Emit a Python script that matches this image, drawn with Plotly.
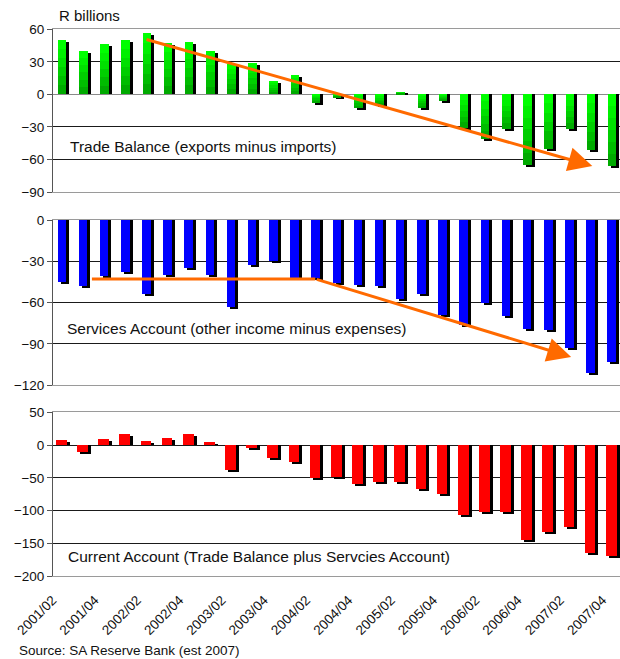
import plotly.graph_objects as go

# ---------------- data ----------------
quarters = ["2001/02", "2001/03", "2001/04", "2002/01", "2002/02", "2002/03", "2002/04",
            "2003/01", "2003/02", "2003/03", "2003/04", "2004/01", "2004/02", "2004/03",
            "2004/04", "2005/01", "2005/02", "2005/03", "2005/04", "2006/01", "2006/02",
            "2006/03", "2006/04", "2007/01", "2007/02", "2007/03", "2007/04"]
tick_labels = ["2001/02", "2001/04", "2002/02", "2002/04", "2003/02", "2003/04", "2004/02",
               "2004/04", "2005/02", "2005/04", "2006/02", "2006/04", "2007/02", "2007/04"]
trade_balance = [50, 40, 46, 50, 56, 47, 48, 40, 28, 29, 12, 18, -8, -3, -13, -10, 2, -13,
                 -6, -31, -41, -32, -65, -51, -32, -52, -66]
services_account = [-45, -48, -41, -38, -54, -40, -35, -40, -63, -33, -30, -42, -42, -46, -47,
                    -48, -57, -54, -69, -76, -60, -70, -79, -80, -93, -111, -103]
current_account = [7, -11, 9, 16, 6, 11, 16, 4, -38, -5, -20, -26, -51, -50, -60, -57, -57,
                   -68, -75, -108, -102, -102, -146, -133, -126, -166, -170]

# ---------------- layout constants ----------------
W, H = 620, 659
PLOT_L = 53
X_RANGE = [-0.5, 26.31]
PX_PER_CAT = (W - PLOT_L) / (X_RANGE[1] - X_RANGE[0])
FONT = "Liberation Sans, Arial, sans-serif"

panels = [
    dict(vals=trade_balance, yr=[-90, 60], dtick=30, top=29.3, bot=192.0,
         colors=["#00FF00", "#00F000", "#00E000", "#00CE00", "#00BC00", "#00AA00"],
         wpx=8.5, offpx=-5.6),
    dict(vals=services_account, yr=[-120, 0], dtick=30, top=220.0, bot=385.3,
         colors=["#0000FF"], wpx=8.5, offpx=-6.0),
    dict(vals=current_account, yr=[-200, 50], dtick=50, top=412.3, bot=576.0,
         colors=["#FF0000"], wpx=10.7, offpx=-7.6),
]

x = list(range(len(quarters)))
fig = go.Figure()

for i, p in enumerate(panels):
    sfx = "" if i == 0 else str(i + 1)
    xa, ya = "x" + sfx, "y" + sfx
    px_per_unit = (p["bot"] - p["top"]) / (p["yr"][1] - p["yr"][0])
    d = 2.0 / px_per_unit  # shadow drop
    w = p["wpx"] / PX_PER_CAT
    off = p["offpx"] / PX_PER_CAT
    sh = 3.0 / PX_PER_CAT
    vals = p["vals"]
    fig.add_trace(go.Bar(x=x, y=[v - d for v in vals], base=0, width=w, offset=off + sh,
                         marker=dict(color="#000000", line=dict(width=0)),
                         xaxis=xa, yaxis=ya, hoverinfo="skip"))
    n = len(p["colors"])
    for k, c in enumerate(p["colors"]):
        bottoms = [min(v, 0) for v in vals]
        heights = [abs(v) * (n - k) / n for v in vals]
        fig.add_trace(go.Bar(x=x, y=heights, base=bottoms, width=w, offset=off,
                             marker=dict(color=c, line=dict(width=0)),
                             xaxis=xa, yaxis=ya, hoverinfo="skip"))

    xdom = [PLOT_L / W, 1.0]
    ydom = [1 - p["bot"] / H, 1 - p["top"] / H]
    xaxis = dict(domain=xdom, range=X_RANGE, anchor=ya, showgrid=False, zeroline=False,
                 showline=True, mirror=True, linecolor="#9a9a9a", linewidth=1,
                 ticks="", showticklabels=False, fixedrange=True, automargin=False)
    if i == 2:
        xaxis.update(showticklabels=True, tickmode="array",
                     tickvals=[quarters.index(t) for t in tick_labels], ticktext=tick_labels,
                     tickangle=-45, tickfont=dict(family=FONT, size=13.5, color="#111"),
                     ticklabelshift=-11, ticklabelstandoff=10)
    yaxis = dict(domain=ydom, range=p["yr"], anchor=xa, dtick=p["dtick"], tick0=0,
                 showgrid=True, gridcolor="#1a1a1a", gridwidth=1,
                 zeroline=(i == 0), zerolinecolor="#8a8a8a", zerolinewidth=1,
                 showline=True, linecolor="#555", linewidth=1,
                 ticks="outside", ticklen=5, tickcolor="#555",
                 tickfont=dict(family=FONT, size=13.5, color="#111"), fixedrange=True,
                 automargin=False)
    fig.update_layout(**{"xaxis" + sfx: xaxis, "yaxis" + sfx: yaxis})

ORANGE = "#FF6A00"

def pxlabel(text, xpx, ypx, size=15.5):
    fig.add_annotation(text=text, x=xpx / W, y=1 - ypx / H, xref="paper", yref="paper",
                       xanchor="left", yanchor="middle", showarrow=False,
                       font=dict(family=FONT, size=size, color="#111"))

pxlabel("R billions", 57, 16, size=15)
pxlabel("Trade Balance (exports minus imports)", 68, 147)
pxlabel("Services Account (other income minus expenses)", 65, 328)
pxlabel("Current Account (Trade Balance plus Servcies Account)", 66, 556)
pxlabel("Source: SA Reserve Bank (est 2007)", 17, 650, size=13.5)

fig.add_annotation(x=25.0, y=-66.0, ax=3.85, ay=51.0, xref="x", yref="y", axref="x", ayref="y",
                   showarrow=True, arrowhead=2, arrowsize=1.6, arrowwidth=3, arrowcolor=ORANGE,
                   text="", standoff=0)
fig.add_shape(type="line", x0=1.34, y0=-42.8, x1=11.9, y1=-42.8, xref="x2", yref="y2",
              line=dict(color=ORANGE, width=3))
fig.add_annotation(x=24.0, y=-99.5, ax=11.9, ay=-42.8, xref="x2", yref="y2", axref="x2",
                   ayref="y2", showarrow=True, arrowhead=2, arrowsize=1.6, arrowwidth=3,
                   arrowcolor=ORANGE, text="", standoff=0)

fig.update_layout(width=W, height=H, margin=dict(l=0, r=0, t=0, b=0, autoexpand=False),
                  plot_bgcolor="white", paper_bgcolor="white", showlegend=False,
                  barmode="overlay", bargap=0, font=dict(family=FONT))

fig.write_html("out.html")
